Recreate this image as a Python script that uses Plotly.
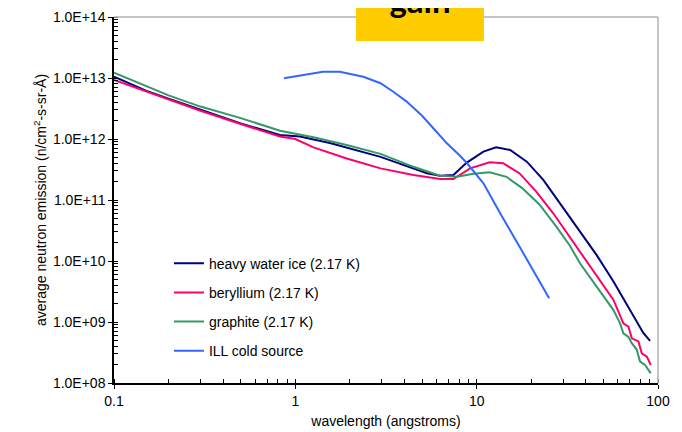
import plotly.graph_objects as go

# ---- data ----
navy_x = [0.1, 0.15, 0.2, 0.3, 0.5, 0.823, 1.06, 1.55, 2.08, 2.95, 4.11, 5.32, 6.28, 7.1, 7.44, 8.82,
          10.9, 12.8, 15.3, 18.9, 23.3, 28.8, 36.3, 45.9, 56.8, 70.2, 83.0, 90.4]
navy_y = [1.05e13, 6.2e12, 4.6e12, 3.0e12, 1.8e12, 1.16e12, 1.1e12, 8.6e11, 6.8e11, 5.1e11, 3.6e11,
          2.74e11, 2.5e11, 2.5e11, 2.57e11, 4.1e11, 6.2e11, 7.3e11, 6.6e11, 4.25e11, 2.14e11, 8.8e10,
          3.4e10, 1.25e10, 4.6e9, 1.57e9, 6.6e8, 4.9e8]

pink_x = [0.1, 0.15, 0.2, 0.3, 0.5, 0.823, 1.0, 1.26, 1.92, 2.95, 4.48, 6.28, 7.44, 9.2, 11.8, 14.0,
          17.2, 21.3, 26.5, 32.6, 37.2, 45.9, 56.8, 64.4, 68.7, 71.7, 78.0, 81.4, 86.8, 91.2]
pink_y = [9.3e12, 6.0e12, 4.5e12, 2.9e12, 1.76e12, 1.1e12, 1.0e12, 7.3e11, 4.8e11, 3.3e11, 2.57e11,
          2.2e11, 2.2e11, 3.3e11, 4.15e11, 4.0e11, 2.75e11, 1.37e11, 6.0e10, 2.5e10, 1.4e10, 5.7e9,
          2.3e9, 9.5e8, 8.4e8, 5.4e8, 4.8e8, 3.07e8, 2.7e8, 1.97e8]

green_x = [0.1, 0.15, 0.2, 0.3, 0.5, 0.823, 0.935, 1.26, 1.92, 2.95, 4.48, 6.28, 7.8, 9.6, 11.8, 14.6,
           17.9, 22.3, 27.5, 32.6, 37.2, 45.9, 56.8, 61.8, 64.4, 68.7, 71.7, 76.4, 79.6, 84.9, 91.2]
green_y = [1.22e13, 7.4e12, 5.2e12, 3.4e12, 2.2e12, 1.37e12, 1.27e12, 1.07e12, 8.0e11, 5.7e11, 3.5e11,
           2.5e11, 2.4e11, 2.7e11, 2.85e11, 2.4e11, 1.55e11, 8.3e10, 3.65e10, 1.8e10, 9.1e9, 3.8e9,
           1.57e9, 9.5e8, 6.5e8, 5.7e8, 4.5e8, 3.5e8, 2.24e8, 1.97e8, 1.44e8]

ill_x = [0.866, 1.42, 1.76, 2.37, 2.95, 3.47, 4.11, 5.0, 5.77, 6.85, 8.09, 8.85, 10.9, 13.5, 17.7, 25.1]
ill_y = [9.9e12, 1.27e13, 1.27e13, 1.05e13, 8.2e12, 5.96e12, 4.1e12, 2.4e12, 1.5e12, 8.5e11, 5.3e11,
         4.0e11, 1.88e11, 6.0e10, 1.5e10, 2.45e9]

series_names = ["heavy water ice (2.17 K)", "beryllium (2.17 K)", "graphite (2.17 K)", "ILL cold source"]
series_colors = ["#000080", "#FF0066", "#339966", "#3366FF"]

x_tickvals = [0.1, 1, 10, 100]
x_ticktext = ["0.1", "1", "10", "100"]
y_tickvals = [1e8, 1e9, 1e10, 1e11, 1e12, 1e13, 1e14]
y_ticktext = ["1.0E+08", "1.0E+09", "1.0E+10", "1.0E+11", "1.0E+12", "1.0E+13", "1.0E+14"]
x_minor = [m * 10.0 ** d for d in range(-1, 2) for m in range(1, 10)] + [100]
y_minor = [m * 10.0 ** d for d in range(8, 14) for m in range(1, 10)] + [1e14]

FONT = "Liberation Sans, Arial, sans-serif"

fig = go.Figure()
for xs, ys, name, col in zip([navy_x, pink_x, green_x, ill_x],
                             [navy_y, pink_y, green_y, ill_y],
                             series_names, series_colors):
    fig.add_trace(go.Scatter(x=xs, y=ys, name=name, mode="lines", legendgroup=name,
                             line=dict(color=col, width=2)))

# the page body adds an 8px offset, margins compensate for it
fig.update_layout(
    width=682, height=432, autosize=False,
    margin=dict(l=106, r=32, t=9, b=57, pad=0),
    paper_bgcolor="white", plot_bgcolor="white",
    font=dict(family=FONT, size=14, color="black"),
    showlegend=True,
    legend=dict(x=0.101, y=0.37, xanchor="left", yanchor="top",
                bgcolor="rgba(0,0,0,0)", font=dict(size=14),
                tracegroupgap=8, traceorder="grouped"),
    xaxis=dict(type="log", range=[-1, 2], tickmode="array", tickvals=x_tickvals, ticktext=x_ticktext,
               ticks="outside", ticklen=4, tickcolor="black", showgrid=False, zeroline=False,
               showline=True, linecolor="black", linewidth=1.5, automargin=False,
               tickfont=dict(size=14),
               minor=dict(tickmode="array", tickvals=x_minor, ticks="inside", ticklen=4,
                          tickcolor="black", showgrid=False),
               title=dict(text="wavelength (angstroms)", standoff=9, font=dict(size=14))),
    yaxis=dict(type="log", range=[8, 14], tickmode="array", tickvals=y_tickvals, ticktext=y_ticktext,
               ticks="outside", ticklen=4, tickcolor="black", showgrid=False, zeroline=False,
               showline=True, linecolor="black", linewidth=1.5, automargin=False,
               tickfont=dict(size=14),
               minor=dict(tickmode="array", tickvals=y_minor, ticks="inside", ticklen=4,
                          tickcolor="black", showgrid=False)),
)

# y axis title
fig.add_annotation(text="average neutron emission (n/cm<sup>2</sup>-s-sr-Å)", textangle=-90,
                   xref="paper", yref="paper", x=-0.136, y=0.5, xanchor="center", yanchor="middle",
                   showarrow=False, font=dict(family=FONT, size=14, color="black"))

# grey frame on top and right of plot area
fig.add_shape(type="line", xref="paper", yref="paper", x0=0, x1=1, y0=1, y1=1,
              line=dict(color="#B0B0B0", width=1.5))
fig.add_shape(type="line", xref="paper", yref="paper", x0=1, x1=1, y0=0, y1=1,
              line=dict(color="#B0B0B0", width=1.5))

# yellow "gain" badge (overlay in the reference)
fig.add_annotation(text="<b>gain</b>", xref="paper", yref="paper", x=0.5625, y=0.9353,
                   xanchor="center", yanchor="bottom", showarrow=False,
                   width=128, height=82, valign="middle", align="center",
                   bgcolor="#FFCC00", borderpad=0, borderwidth=0,
                   font=dict(family="Lato, Open Sans, sans-serif", size=33, color="black"))

fig.write_html("out.html")
